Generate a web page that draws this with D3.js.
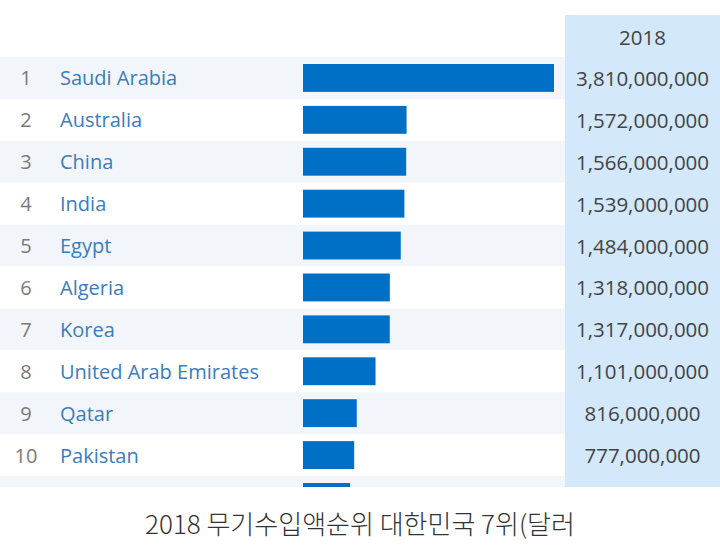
<!DOCTYPE html>
<html><head><meta charset="utf-8">
<script src="https://cdn.jsdelivr.net/npm/d3@7"></script>
<style>body{margin:0;background:#fff}svg{display:block}</style>
</head><body>
<script>
const ranks = ["1","2","3","4","5","6","7","8","9","10","11"];
const countries = ["Saudi Arabia","Australia","China","India","Egypt","Algeria","Korea","United Arab Emirates","Qatar","Pakistan",""];
const values = [3810000000,1572000000,1566000000,1539000000,1484000000,1318000000,1317000000,1101000000,816000000,777000000,713000000];
const yearLabel = "2018";
const title = "2018 무기수입액순위 대한민국 7위(달러";

const W = 720, H = 550;
const svg = d3.select("body").append("svg").attr("width", W).attr("height", H);
const font = "'Open Sans','Noto Sans',sans-serif";

const tableTop = 57, rowH = 41.9, clipBottom = 487;
const y = d3.scaleBand().domain(ranks).range([tableTop, tableTop + rowH * ranks.length]).padding(0);
const x = d3.scaleLinear().domain([0, 3810000000]).range([303, 554]);

svg.append("clipPath").attr("id","tc").append("rect").attr("x",0).attr("y",0).attr("width",W).attr("height",clipBottom);
const g = svg.append("g").attr("clip-path","url(#tc)");

g.selectAll("rect.band").data(ranks).join("rect").attr("class","band")
  .attr("x",0).attr("width",565).attr("y",d=>y(d)).attr("height",y.bandwidth())
  .attr("fill",(d,i)=> i%2===0 ? "#f2f6fa" : "#ffffff");

g.append("rect").attr("x",565).attr("y",15).attr("width",155).attr("height",clipBottom-15).attr("fill","#d3e8fb");

g.append("text").attr("x",642.5).attr("y",37).attr("text-anchor","middle").attr("dominant-baseline","central")
  .attr("font-family",font).attr("font-size",20.5).attr("fill","#444").text(yearLabel);

g.selectAll("rect.bar").data(values).join("rect").attr("class","bar")
  .attr("x",x(0)).attr("y",(d,i)=>y(ranks[i])+7).attr("height",y.bandwidth()-14)
  .attr("width",d=>x(d)-x(0)).attr("fill","#0070c6");

g.selectAll("text.rank").data(ranks).join("text").attr("class","rank")
  .attr("x",26).attr("y",d=>y(d)+y.bandwidth()/2).attr("text-anchor","middle").attr("dominant-baseline","central")
  .attr("font-family",font).attr("font-size",20).attr("fill","#7a7a7a").text(d=>d);

g.selectAll("text.name").data(countries).join("text").attr("class","name")
  .attr("x",60).attr("y",(d,i)=>y(ranks[i])+y.bandwidth()/2).attr("dominant-baseline","central")
  .attr("font-family",font).attr("font-size",20).attr("fill","#3a7cbd").text(d=>d);

const fmt = d3.format(",");
g.selectAll("text.val").data(values).join("text").attr("class","val")
  .attr("x",642.5).attr("y",(d,i)=>y(ranks[i])+y.bandwidth()/2).attr("text-anchor","middle").attr("dominant-baseline","central")
  .attr("font-family",font).attr("font-size",20.5).attr("fill","#444").text(d=>fmt(d));

svg.append("text").attr("x",360).attr("y",522).attr("text-anchor","middle").attr("dominant-baseline","central")
  .attr("font-family","'Noto Sans CJK KR','Noto Sans',sans-serif").attr("font-weight",300)
  .attr("font-size",26).attr("fill","#333").text(title);
</script>
</body></html>
